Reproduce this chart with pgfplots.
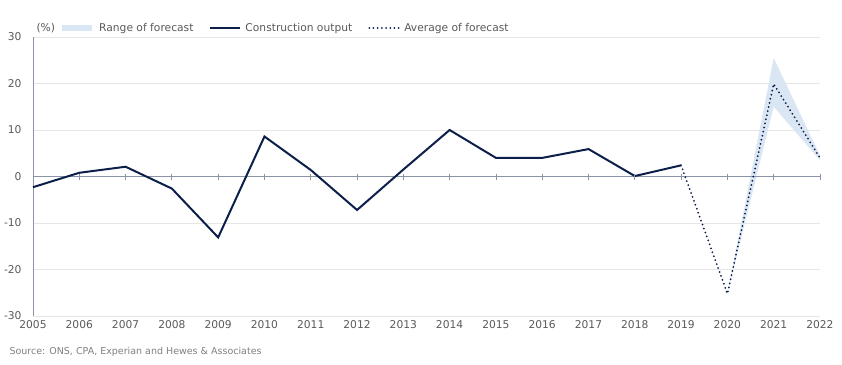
\documentclass[border=0pt]{standalone}
\usepackage{pgfplots}
\pgfplotsset{compat=1.18}
\usepackage{fontspec}
\setmainfont{DejaVu Sans}
\definecolor{navy}{HTML}{0C1F4A}
\definecolor{band}{HTML}{DAE6F3}
\definecolor{axisgray}{HTML}{8A94A6}
\definecolor{gridgray}{HTML}{E6E6E6}
\definecolor{txt}{HTML}{595959}
\begin{document}
\begin{tikzpicture}
\begin{axis}[
  at={(33bp,49bp)}, anchor=south west,
  scale only axis, width=787bp, height=279bp,
  xmin=2005, xmax=2022, ymin=-30, ymax=30,
  xtick={2005,...,2022}, ytick={-30,-20,...,30},
  axis x line=bottom, axis y line=left,
  x axis line style={draw=gridgray,-},
  y axis line style={draw=axisgray,-},
  major tick length=0pt,
  ymajorgrids, grid style={gridgray, line width=0.7bp},
  tick label style={font=\fontsize{10.7bp}{12bp}\selectfont, text=txt},
  /pgf/number format/assume math mode=true,
  /pgf/number format/1000 sep={},
  xticklabel style={yshift=-1bp},
  yticklabel style={xshift=-8bp},
  legend style={draw=none, fill=none, at={(23bp,288bp)}, anchor=west, legend columns=-1,
    font=\fontsize{10.7bp}{12bp}\selectfont, text=txt,
    /tikz/every even column/.append style={column sep=14bp},
    /tikz/every odd column/.append style={column sep=2bp}},
  legend cell align=left,
  legend image code/.code={\draw[#1] (0bp,0bp) -- (30bp,0bp);},
  clip=false,
]
\addlegendimage{band, line width=6bp}
\addlegendentry{Range of forecast}
\addlegendimage{navy, line width=2bp}
\addlegendentry{Construction output}
\addlegendimage{navy, line width=2bp, line cap=round, dash pattern=on 0bp off 4.2bp}
\addlegendentry{Average of forecast}
\addplot[fill=band, draw=none, forget plot] coordinates {(2020,-25.2) (2021,25.5) (2022,4.5) (2022,3.5) (2021,15) (2020,-25.2)} -- cycle;
\addplot[axisgray, line width=0.8bp, forget plot] coordinates {(2005,0) (2022,0)};
\addplot[axisgray, line width=0.8bp, only marks, mark=|, mark size=3bp, forget plot] coordinates {(2005,0) (2006,0) (2007,0) (2008,0) (2009,0) (2010,0) (2011,0) (2012,0) (2013,0) (2014,0) (2015,0) (2016,0) (2017,0) (2018,0) (2019,0) (2020,0) (2021,0) (2022,0)};
\addplot[navy, line width=2bp, forget plot] coordinates {(2005,-2.3) (2006,0.8) (2007,2.1) (2008,-2.6) (2009,-13.1) (2010,8.6) (2011,1.4) (2012,-7.2) (2013,1.5) (2014,10) (2015,4) (2016,4) (2017,5.9) (2018,0.1) (2019,2.4)};
\addplot[navy, line width=2bp, line cap=round, dash pattern=on 0bp off 4.2bp, forget plot] coordinates {(2019,2.4) (2020,-25.2) (2021,19.9) (2022,4)};
\end{axis}
\node[anchor=west, text=txt, font=\fontsize{10.7bp}{12bp}\selectfont] at (33bp,337bp) {(\%)};
\node[anchor=west, text=gray, font=\fontsize{9.5bp}{11bp}\selectfont] at (6bp,13bp) {Source: ONS, CPA, Experian and Hewes \& Associates};
\pgfresetboundingbox
\path (0,0) rectangle (842bp,365bp);
\end{tikzpicture}
\end{document}
